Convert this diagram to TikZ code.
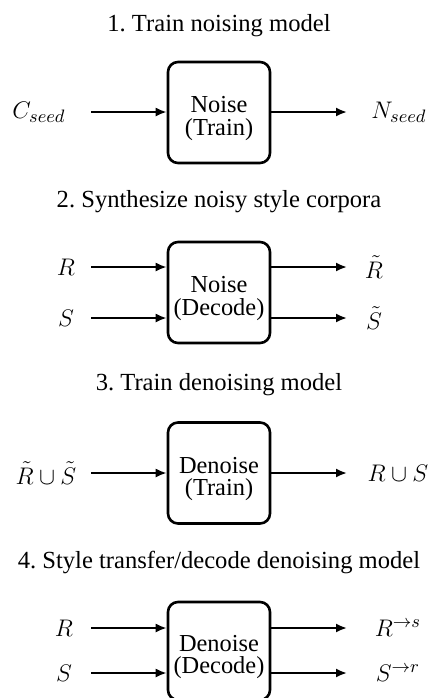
\documentclass[tikz,border=0pt]{standalone}
\usepackage{fontspec}
\setmainfont{Liberation Serif}
\usetikzlibrary{arrows.meta}
\frenchspacing

% two-line caption inside a block; its first baseline is the node's base
\newcommand{\twoline}[2]{\begin{tabular}[t]{@{}c@{}}#1\\#2\end{tabular}}

\tikzset{
  title/.style={anchor=base, font=\fontsize{12.3}{14}\selectfont, inner sep=0pt},
  blk/.style={draw, line width=1.3pt, rounded corners=5pt, minimum width=51pt,
    minimum height=50.5pt, inner sep=0pt},
  blktext/.style={anchor=base, inner sep=0pt, font=\fontsize{12.2}{9.5}\selectfont},
  var/.style={font=\fontsize{12.3}{14}\selectfont, inner sep=0pt},
  arr/.style={line width=1pt, -{Latex[length=5.5pt,width=4.5pt]}},
}

\begin{document}
\begin{tikzpicture}[x=0.5pt, y=-0.5pt]
\useasboundingbox (0,0) rectangle (433,698);

% ---- step 1: train the noising model
\node[title] (t1) at (219,31) {1. Train noising model};
\node[blk] (b1) at (219,112.5) {};
\node[blktext] (l1) at (b1.center) {\twoline{Noise}{(Train)}};
\node[var] (cseed) at (39,112) {$C_{seed}$};
\node[var] (nseed) at (399,112) {$N_{seed}$};
\coordinate (i1) at (91,112);
\coordinate (o1) at (347,112);
\draw[arr] (i1) -- (i1 -| b1.west);
\draw[arr] (o1 -| b1.east) -- (o1);

% ---- step 2: synthesize noisy style corpora
\node[title] (t2) at (219,207) {2. Synthesize noisy style corpora};
\node[blk] (b2) at (219,292.5) {};
\node[blktext] (l2) at (b2.center) {\twoline{Noise}{(Decode)}};
\node[var] (r2) at (66,267) {$R$};
\node[var] (s2) at (66,318) {$S$};
\node[var] (rt2) at (374,267) {$\tilde{R}$};
\node[var] (st2) at (374,318) {$\tilde{S}$};
\coordinate (i2a) at (91,267);
\coordinate (i2b) at (91,318);
\coordinate (o2a) at (347,267);
\coordinate (o2b) at (347,318);
\draw[arr] (i2a) -- (i2a -| b2.west);
\draw[arr] (i2b) -- (i2b -| b2.west);
\draw[arr] (o2a -| b2.east) -- (o2a);
\draw[arr] (o2b -| b2.east) -- (o2b);

% ---- step 3: train the denoising model
\node[title] (t3) at (219,390) {3. Train denoising model};
\node[blk] (b3) at (219,473) {};
\node[blktext] (l3) at (b3.center) {\twoline{Denoise}{(Train)}};
\node[var] (in3) at (46,473) {$\tilde{R}\cup\tilde{S}$};
\node[var] (out3) at (398,473) {$R\cup S$};
\coordinate (i3) at (91,473);
\coordinate (o3) at (347,473);
\draw[arr] (i3) -- (i3 -| b3.west);
\draw[arr] (o3 -| b3.east) -- (o3);

% ---- step 4: style transfer with the denoising model
\node[title] (t4) at (219,568) {4. Style transfer/decode denoising model};
\node[blk, minimum height=49pt] (b4) at (219,651) {};
\node[blktext] (l4) at (b4.center) {\twoline{Denoise}{(Decode)}};
\node[var] (r4) at (64,628) {$R$};
\node[var] (s4) at (64,673) {$S$};
\node[var] (rs4) at (398,628) {$R^{\to s}$};
\node[var] (sr4) at (398,673) {$S^{\to r}$};
\coordinate (i4a) at (91,628);
\coordinate (i4b) at (91,673);
\coordinate (o4a) at (347,628);
\coordinate (o4b) at (347,673);
\draw[arr] (i4a) -- (i4a -| b4.west);
\draw[arr] (i4b) -- (i4b -| b4.west);
\draw[arr] (o4a -| b4.east) -- (o4a);
\draw[arr] (o4b -| b4.east) -- (o4b);
\end{tikzpicture}
\end{document}
